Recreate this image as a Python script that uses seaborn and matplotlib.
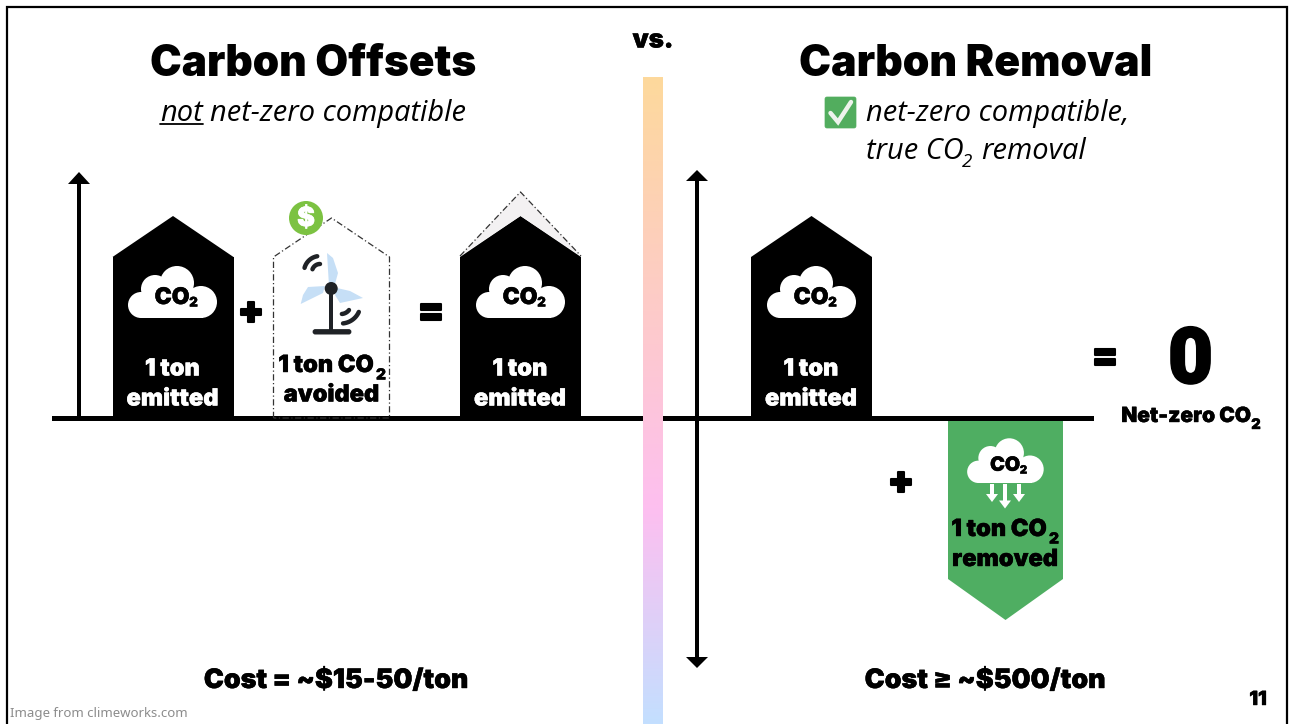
import numpy as np
import matplotlib
matplotlib.use("Agg")
import matplotlib.pyplot as plt
import matplotlib.patheffects as pe
from matplotlib.colors import LinearSegmentedColormap
from matplotlib.patches import Circle, FancyBboxPatch, Polygon, Rectangle
import seaborn as sns

# Tons of CO2 shown by each block, with their captions
block_names = ["emitted", "avoided", "offset total", "emitted (removal)", "removed"]
block_tons = [1.0, 1.0, 1.0, 1.0, -1.0]
block_colors = ["black", "white", "black", "black", "#4fae62"]
title_left = "Carbon Offsets"
title_right = "Carbon Removal"
cost_left = "Cost = ~$15-50/ton"
cost_right = "Cost ≥ ~$500/ton"
net_result = "0"
gradient_stops = [(0.0, "#fdd99c"), (0.67, "#fdbff0"), (1.0, "#c3dfff")]

HEAVY = "Inter"
sns.set_theme(style="white")
plt.rcParams["font.family"] = [HEAVY, "DejaVu Sans"]

fig = plt.figure(figsize=(12.93, 7.24), dpi=100, facecolor="white")

# Tonne axis: baseline at 418 px, one tonne spans 202 px
ax = fig.add_axes([0, 0, 1, 1])
PX_PER_TON = 202.0
BASE = 418.0
ROOF = 41.0 / 202.0


def draw_block(cx, width, tons, color):
    sign = np.sign(tons)
    body = tons - sign * ROOF
    sns.barplot(x=[cx], y=[body], native_scale=True, width=width, color=color,
                saturation=1, linewidth=0, ax=ax, zorder=3)
    ax.fill([cx - width / 2, cx, cx + width / 2], [body, tons, body], color=color,
            linewidth=0, zorder=3)


for cx, width, tons, color, name in zip(
    [173, 331.5, 520.5, 811.5, 1005.5], [121, 117, 121, 121, 115],
    block_tons, block_colors, block_names
):
    if name != "avoided":
        draw_block(cx, width, tons, color)

ax.set_xlim(0, 1293)
ax.set_ylim((BASE - 724) / PX_PER_TON, BASE / PX_PER_TON)
ax.axis("off")

# Pixel-space page for the annotation layer
page = fig.add_axes([0, 0, 1, 1], facecolor="none")
page.set_xlim(0, 1293)
page.set_ylim(724, 0)
page.axis("off")

# Slide frame
page.plot([7, 7, 1287, 1287], [726, 6.5, 6.5, 726], color="black", lw=1.6, zorder=1,
          solid_joinstyle="miter")

# Baseline and axis arrows
page.add_patch(Rectangle((52, 416.4), 1042, 4.9, color="black", lw=0, zorder=4))


def shaft(x, y0, y1):
    page.add_patch(Rectangle((x - 2.2, y0), 4.4, y1 - y0, color="black", lw=0, zorder=2))


def head(x, tip, base):
    page.add_patch(Polygon([(x - 11, base), (x, tip), (x + 11, base)], color="black", lw=0, zorder=2))


shaft(79, 180, 418)
head(79, 172, 184)
shaft(697, 178, 660)
head(697, 170, 181)
head(697, 668, 657)

# Vertical gradient divider
cmap = LinearSegmentedColormap.from_list("divider", gradient_stops)
page.imshow(np.linspace(0, 1, 256)[:, None], cmap=cmap, extent=(643, 663, 724, 77),
            aspect="auto", zorder=5)
page.set_xlim(0, 1293)
page.set_ylim(724, 0)

# Dashed outlines: the avoided block and the ghost roof above the total
DASH = (0, (5, 2, 1, 2))
page.plot([273.5, 273.5, 331.5, 389.5, 389.5, 273.5], [418, 257, 218, 257, 418, 418],
          color="#333333", lw=0.9, ls=DASH, zorder=5)
page.add_patch(Polygon([(460, 256), (520.5, 192), (581, 256), (520.5, 216)], color="#f3f1f2", lw=0, zorder=2))
page.plot([460, 520.5, 581], [256, 192, 256], color="#333333", lw=0.9, ls=DASH, zorder=5)


def label(text, x, y, size, color="black", stroke=0.3, ha="center", family=HEAVY):
    t = page.text(x, y, text, fontsize=size, fontweight=900, color=color, ha=ha, va="center",
                  family=[family, "DejaVu Sans"], zorder=10)
    if stroke:
        t.set_path_effects([pe.withStroke(linewidth=stroke, foreground=color)])
    return t


def cloud(cx, bottom, scale=1.0):
    parts = [(-31, -13, 13), (-17, -29, 14), (5, -35, 17), (29, -16, 16)]
    for dx, dy, r in parts:
        page.add_patch(Circle((cx + dx * scale, bottom + dy * scale), r * scale, color="white", lw=0, zorder=6))
    page.add_patch(Rectangle((cx - 31 * scale, bottom - 24 * scale), 62 * scale, 24 * scale,
                             color="white", lw=0, zorder=6))
    page.add_patch(Rectangle((cx - 18 * scale, bottom - 35 * scale), 36 * scale, 20 * scale,
                             color="white", lw=0, zorder=6))
    label("CO", cx, bottom - 20 * scale, 16.5 * scale)
    label("2", cx + 21.5 * scale, bottom - 14.5 * scale, 9.5 * scale)


for cx in (172, 520, 811):
    cloud(cx, 318)
cloud(1005, 483, scale=0.86)

# Arrows falling from the removal cloud
for x, tip in ((992, 502), (1005, 508.5), (1019, 502)):
    page.add_patch(Rectangle((x - 1.6, 484), 3.2, tip - 490, color="white", lw=0, zorder=6))
    page.add_patch(Polygon([(x - 6, tip - 8), (x, tip), (x + 6, tip - 8)], color="white", lw=0, zorder=6))

# Wind turbine icon
BLADE = "#c6dff6"
page.add_patch(Polygon([(327, 253), (333, 258), (338, 273), (335, 284), (329, 286)], color=BLADE, lw=0, zorder=6))
page.add_patch(Polygon([(325, 286), (308, 287), (303, 295), (300.7, 304), (323, 293)], color=BLADE, lw=0, zorder=6))
page.add_patch(Polygon([(337, 288), (350, 291), (363, 298), (340, 303), (335, 295)], color=BLADE, lw=0, zorder=6))
page.add_patch(Rectangle((329, 290), 4.4, 43, color="#1f2226", lw=0, zorder=7))
page.add_patch(FancyBboxPatch((314, 330.5), 36, 2.6, boxstyle="round,pad=0,rounding_size=1.3", fc="#1f2226", ec="#1f2226", lw=2, zorder=7))
page.add_patch(Circle((331.2, 288.5), 6.5, color="#1f2226", lw=0, zorder=8))
for c, r, t0, t1 in (((320, 272), 16, 100, 165), ((320, 272), 8, 90, 160),
                     ((341, 304), 19.5, -84, -24), ((341, 304), 10, -85, -37)):
    t = np.radians(np.linspace(t0, t1, 20))
    page.plot(c[0] + r * np.cos(t), c[1] - r * np.sin(t), color="#1f2226", lw=3.2,
              solid_capstyle="round", zorder=6)

# Dollar badge
page.add_patch(Circle((306, 218), 17, color="#7cc242", lw=0, zorder=8))
label("$", 306, 219, 19, color="white", stroke=0.5)

# Check-mark emoji
page.add_patch(FancyBboxPatch((825, 97), 31, 31, boxstyle="round,pad=0,rounding_size=2",
                              fc="#52ad5e", ec="#52ad5e", lw=0.5, zorder=8))
page.plot([830.5, 838, 851], [113, 122, 102], color="#eef3ec", lw=3.2, solid_joinstyle="miter", zorder=9)

# Titles
label(title_left, 313, 65, 30.5, stroke=0)
label(title_right, 975.5, 65, 30.8, stroke=0)
label("vs.", 653, 41, 18.5)

# Block captions
for cx in (172.5, 520, 811):
    label("1 ton", cx, 369.5, 17, color="white")
    label("emitted", cx, 399.5, 17, color="white")
label("1 ton CO", 326, 366, 17)
label("2", 381, 375, 11)
label("avoided", 331.5, 395.5, 17)
label("1 ton CO", 999, 530, 17)
label("2", 1054, 539, 11)
label("removed", 1005, 560, 17)

# Operators
label("+", 251, 313, 28, stroke=1.5)
label("=", 431, 313, 28, stroke=1.5)
label("=", 1105, 358, 28, stroke=1.5)
label("+", 901, 483, 28, stroke=1.5)

# Net result
label(net_result, 1190.5, 362, 56, stroke=1.5, family="Roboto")
label("Net-zero CO", 1186, 416, 15)
label("2", 1256, 425, 10.5)

# Costs, page number and source line
label(cost_left, 336, 681, 19.3)
label(cost_right, 985, 681, 19.3)
label("11", 1258, 700, 14)
page.text(10, 714, "Image from climeworks.com", fontsize=9.5, color="#8c8c8c", ha="left", va="center",
          family=["Noto Sans"], zorder=10)

# Subtitles in Open Sans italic
sub = dict(fontsize=20.85, style="italic", color="black", va="center", family=["Open Sans"], zorder=10)
page.text(160, 113.5, "not", ha="left", **sub)
page.text(210.5, 113.5, "net-zero compatible", ha="left", **sub)
page.plot([160, 203], [124, 124], color="black", lw=1.3, zorder=10)
page.text(866, 113.5, "net-zero compatible,", ha="left", **sub)
page.text(866, 151.5, "true CO", ha="left", **sub)
page.text(962, 162, "2", ha="left", fontsize=13.5, style="italic", color="black", va="center",
          family=["Open Sans"], zorder=10)
page.text(981, 151.5, "removal", ha="left", **sub)

fig.savefig("out.png", dpi=100)
